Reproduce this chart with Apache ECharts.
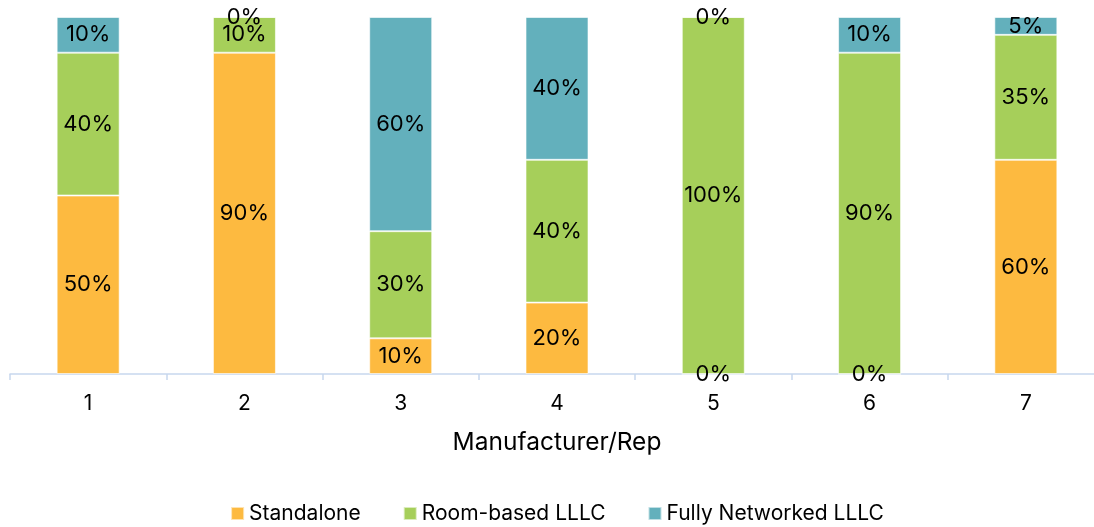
<!DOCTYPE html>
<html>
<head>
<meta charset="utf-8">
<script src="https://cdn.jsdelivr.net/npm/echarts@6/dist/echarts.min.js"></script>
<style>
  html, body { margin: 0; padding: 0; background: #fff; overflow: hidden; }
  #chart { width: 1114px; height: 527px; }
</style>
</head>
<body>
<div id="chart"></div>
<script>
// Share of control type per manufacturer/rep (percent)
const categories = ['1', '2', '3', '4', '5', '6', '7'];
const standalone = [50, 90, 10, 20, 0, 0, 60];
const roomBased = [40, 10, 30, 40, 100, 90, 35];
const fullyNetworked = [10, 0, 60, 40, 0, 10, 5];

const FONT = 'Inter, "Noto Sans", sans-serif';

const chart = echarts.init(document.getElementById('chart'), null, { renderer: 'canvas' });

function barSeries(name, data, color) {
  return {
    name: name,
    type: 'bar',
    stack: 'total',
    data: data,
    barWidth: 63,
    itemStyle: { color: color, borderColor: 'rgba(255,255,255,0.6)', borderWidth: 1 },
    label: {
      show: true,
      position: 'inside',
      formatter: p => p.value + '%',
      color: '#000',
      fontSize: 22,
      fontFamily: FONT
    }
  };
}

chart.setOption({
  animation: false,
  grid: { left: 10, right: 10, top: 17, bottom: 153, containLabel: false },
  legend: {
    top: 498,
    left: 'center',
    icon: 'rect',
    itemWidth: 13,
    itemHeight: 13,
    itemGap: 42,
    textStyle: { fontSize: 21, fontFamily: FONT, color: '#000' },
    data: ['Standalone', 'Room-based LLLC', 'Fully Networked LLLC']
  },
  xAxis: {
    type: 'category',
    data: categories,
    name: 'Manufacturer/Rep',
    nameLocation: 'middle',
    nameGap: 56,
    nameTextStyle: { fontSize: 24.5, fontFamily: FONT, color: '#000' },
    axisLine: { lineStyle: { color: '#C7D7EE', width: 1.5 } },
    axisTick: { show: true, length: 6, lineStyle: { color: '#C7D7EE', width: 1.5 } },
    axisLabel: { fontSize: 21, fontFamily: FONT, color: '#000', margin: 19 }
  },
  yAxis: {
    type: 'value',
    min: 0,
    max: 100,
    show: false,
    splitLine: { show: false }
  },
  series: [
    barSeries('Standalone', standalone, '#FDBA40'),
    barSeries('Room-based LLLC', roomBased, '#A6CF5A'),
    barSeries('Fully Networked LLLC', fullyNetworked, '#63B0BC')
  ]
});
</script>
</body>
</html>
